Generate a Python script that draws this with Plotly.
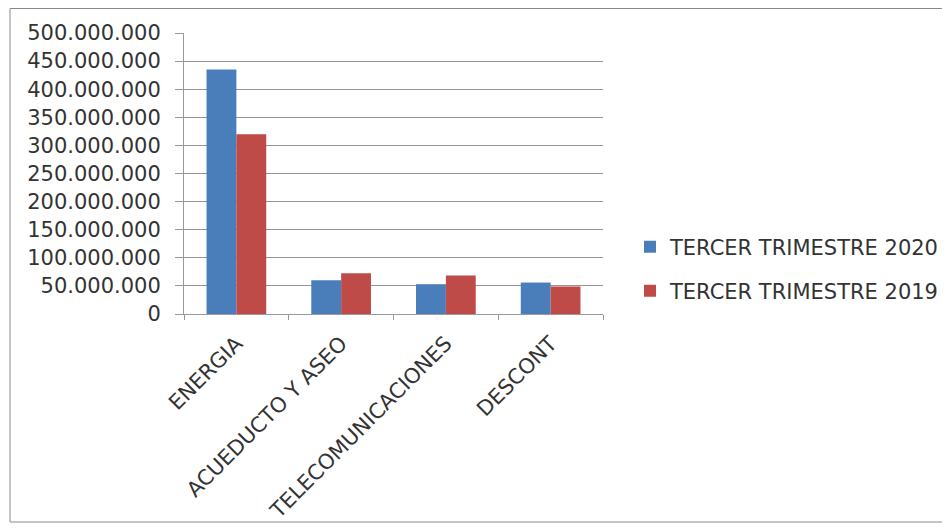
import plotly.graph_objects as go

categories = ["ENERGIA", "ACUEDUCTO Y ASEO", "TELECOMUNICACIONES", "DESCONT"]
series_2020 = [435000000, 60000000, 53000000, 56000000]
series_2019 = [320000000, 72500000, 68500000, 49000000]
name_2020 = "TERCER TRIMESTRE 2020"
name_2019 = "TERCER TRIMESTRE 2019"
tick_vals = [0, 50000000, 100000000, 150000000, 200000000, 250000000,
             300000000, 350000000, 400000000, 450000000, 500000000]
tick_text = ["0", "50.000.000", "100.000.000", "150.000.000", "200.000.000",
             "250.000.000", "300.000.000", "350.000.000", "400.000.000",
             "450.000.000", "500.000.000"]

W, H = 950, 529
FONT = "DejaVu Sans"
TXT = "#333333"
FS = 21

# plot area in figure pixels
L, R, T, B = 176, 595, 25, 306
PW, PH = R - L, B - T

fig = go.Figure()
fig.add_trace(go.Bar(x=categories, y=series_2020, name=name_2020,
                     marker=dict(color="#4A7EBB", line=dict(width=0)),
                     legend="legend"))
fig.add_trace(go.Bar(x=categories, y=series_2019, name=name_2019,
                     marker=dict(color="#BE4B48", line=dict(width=0)),
                     legend="legend2"))

fig.update_layout(
    width=W, height=H,
    margin=dict(l=L, r=W - R, t=T, b=H - B),
    paper_bgcolor="white", plot_bgcolor="white",
    barmode="group", bargap=0.43, bargroupgap=0,
    font=dict(family=FONT, size=FS, color=TXT),
    showlegend=True,
    legend=dict(x=(622 - L) / PW, y=(B - 239) / PH, xanchor="left", yanchor="middle",
                font=dict(family=FONT, size=FS, color=TXT),
                bgcolor="rgba(0,0,0,0)", itemwidth=30),
    legend2=dict(x=(622 - L) / PW, y=(B - 283) / PH, xanchor="left", yanchor="middle",
                 font=dict(family=FONT, size=FS, color=TXT),
                 bgcolor="rgba(0,0,0,0)", itemwidth=30),
)

fig.update_xaxes(
    tickangle=-45, showgrid=False, showline=True, linecolor="#999999",
    linewidth=1, ticks="outside", tickson="boundaries", ticklen=5,
    tickcolor="#999999", ticklabelstandoff=8,
    tickfont=dict(family=FONT, size=FS, color=TXT),
)
fig.update_yaxes(
    range=[0, 500000000], tickvals=tick_vals, ticktext=tick_text,
    showgrid=True, gridcolor="#959595", gridwidth=1,
    showline=True, linecolor="#999999", linewidth=1,
    ticks="outside", ticklen=8, tickcolor="#999999", ticklabelstandoff=10,
    tickfont=dict(family=FONT, size=FS, color=TXT), zeroline=False,
)

# outer chart border (open on the right, as in the reference)
fig.add_shape(type="path", xref="paper", yref="paper",
              path="M {x1},{y0} L {x0},{y0} L {x0},{y1} L {x1},{y1}".format(
                  x0=(2 - L) / PW, x1=(W + 20 - L) / PW,
                  y0=(B - 0.5) / PH, y1=-(514 - B) / PH),
              line=dict(color="#8a8a8a", width=1), layer="below")

fig.write_html("out.html")
